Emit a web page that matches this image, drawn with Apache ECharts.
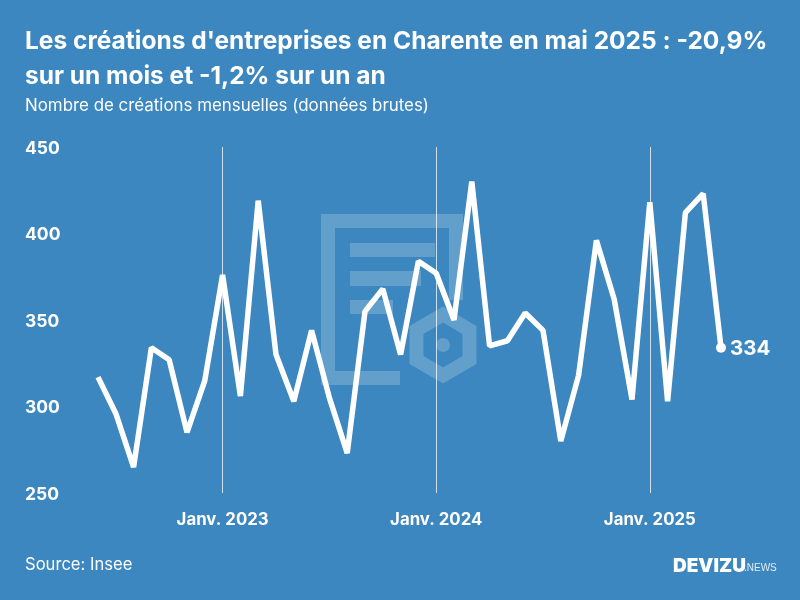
<!DOCTYPE html>
<html>
<head>
<meta charset="utf-8">
<style>
html, body { margin: 0; padding: 0; background: #3c87bf; }
#chart { width: 800px; height: 600px; }
</style>
<script src="https://cdn.jsdelivr.net/npm/echarts@6/dist/echarts.min.js"></script>
</head>
<body>
<div id="chart"></div>
<script>
var months = [
    'Juin 2022', 'Juil. 2022', 'Août 2022', 'Sept. 2022', 'Oct. 2022', 'Nov. 2022', 'Déc. 2022',
    'Janv. 2023', 'Févr. 2023', 'Mars 2023', 'Avr. 2023', 'Mai 2023', 'Juin 2023', 'Juil. 2023', 'Août 2023', 'Sept. 2023', 'Oct. 2023', 'Nov. 2023', 'Déc. 2023',
    'Janv. 2024', 'Févr. 2024', 'Mars 2024', 'Avr. 2024', 'Mai 2024', 'Juin 2024', 'Juil. 2024', 'Août 2024', 'Sept. 2024', 'Oct. 2024', 'Nov. 2024', 'Déc. 2024',
    'Janv. 2025', 'Févr. 2025', 'Mars 2025', 'Avr. 2025', 'Mai 2025'
]
var creations = [
    317, 296, 265, 334, 327, 285, 315,
    376, 306, 419, 330, 303, 344, 305, 273, 355, 368, 330, 384,
    377, 350, 430, 335, 338, 354, 344, 280, 318, 396, 362, 304,
    418, 303, 412, 423, 334
]

var white = '#ffffff'
var ghost = 'rgba(255,255,255,0.2)'
var font = 'Inter'

var isJanuary = function (index, name) {
    return name.indexOf('Janv.') === 0
}

// only the last point gets a dot and a label
var seriesData = creations.map(function (v, i) {
    if (i < creations.length - 1) return v
    return {
        value: v,
        symbol: 'circle',
        symbolSize: 10,
        label: {
            show: true,
            position: 'right',
            distance: 6,
            offset: [-2, 1],
            color: white,
            fontFamily: font,
            fontWeight: 'bold',
            fontSize: 20.5
        }
    }
})

var chart = echarts.init(document.getElementById('chart'), null, { renderer: 'canvas' })

var option = {
    animation: false,
    backgroundColor: '#3c87bf',
    title: [
        {
            text: "Les créations d'entreprises en Charente en mai 2025 : -20,9%",
            left: 25,
            top: 29,
            padding: 0,
            textStyle: { color: white, fontFamily: font, fontWeight: 'bold', fontSize: 24.5 }
        },
        {
            text: 'sur un mois et -1,2% sur un an',
            left: 25,
            top: 64,
            padding: 0,
            textStyle: { color: white, fontFamily: font, fontWeight: 'bold', fontSize: 24.5 }
        },
        {
            text: 'Nombre de créations mensuelles (données brutes)',
            left: 25,
            top: 97,
            padding: 0,
            textStyle: { color: white, fontFamily: font, fontWeight: 'normal', fontSize: 16.9 }
        },
        {
            text: 'Source: Insee',
            left: 25,
            top: 556,
            padding: 0,
            textStyle: { color: white, fontFamily: font, fontWeight: 'normal', fontSize: 16.6 }
        }
    ],
    grid: { left: 98, right: 79, top: 147, bottom: 107 },
    xAxis: {
        type: 'category',
        boundaryGap: false,
        data: months,
        axisLine: { show: false },
        axisTick: { show: false },
        axisLabel: {
            interval: isJanuary,
            margin: 18,
            color: white,
            fontFamily: font,
            fontWeight: 'bold',
            fontSize: 16.8
        },
        splitLine: {
            show: true,
            interval: isJanuary,
            lineStyle: { color: 'rgba(255,255,255,0.75)', width: 1 }
        }
    },
    yAxis: {
        type: 'value',
        min: 250,
        max: 450,
        interval: 50,
        axisLine: { show: false },
        axisTick: { show: false },
        splitLine: { show: false },
        axisLabel: {
            align: 'left',
            margin: 73,
            formatter: '{v|{value}}',
            rich: {
                v: {
                    padding: [3, 0, 0, 0],
                    color: white,
                    fontFamily: font,
                    fontWeight: 'bold',
                    fontSize: 17.5
                }
            }
        }
    },
    series: [
        {
            type: 'line',
            data: seriesData,
            symbol: 'none',
            smooth: false,
            lineStyle: { color: white, width: 5.5 },
            itemStyle: { color: white }
        }
    ],
    graphic: [
        // watermark behind the line
        { type: 'polyline', z: 0, silent: true,
          shape: { points: [[456, 300], [456, 221], [328, 221], [328, 378], [400, 378]] },
          style: { stroke: ghost, lineWidth: 14, fill: null } },
        { type: 'rect', z: 0, silent: true, shape: { x: 350, y: 243, width: 85, height: 14 }, style: { fill: ghost } },
        { type: 'rect', z: 0, silent: true, shape: { x: 350, y: 271, width: 71, height: 15 }, style: { fill: ghost } },
        { type: 'rect', z: 0, silent: true, shape: { x: 350, y: 300, width: 43, height: 14 }, style: { fill: ghost } },
        { type: 'polygon', z: 0, silent: true,
          shape: { points: [[443, 314.5], [469.5, 330], [469.5, 360], [443, 375.5], [416.5, 360], [416.5, 330]] },
          style: { stroke: ghost, lineWidth: 14, fill: null } },
        { type: 'circle', z: 0, silent: true, shape: { cx: 443, cy: 345, r: 7 }, style: { fill: ghost } },
        // logo
        { type: 'text', z: 5, silent: true, x: 673, y: 557,
          style: { text: 'DEVIZU', fill: white, font: '900 19px "Inter"' } },
        { type: 'text', z: 5, silent: true, x: 744, y: 563,
          style: { text: '.NEWS', fill: 'rgba(255,255,255,0.85)', font: '10px "Liberation Sans Narrow", "Liberation Sans"' } }
    ]
}

chart.setOption(option)
</script>
</body>
</html>
